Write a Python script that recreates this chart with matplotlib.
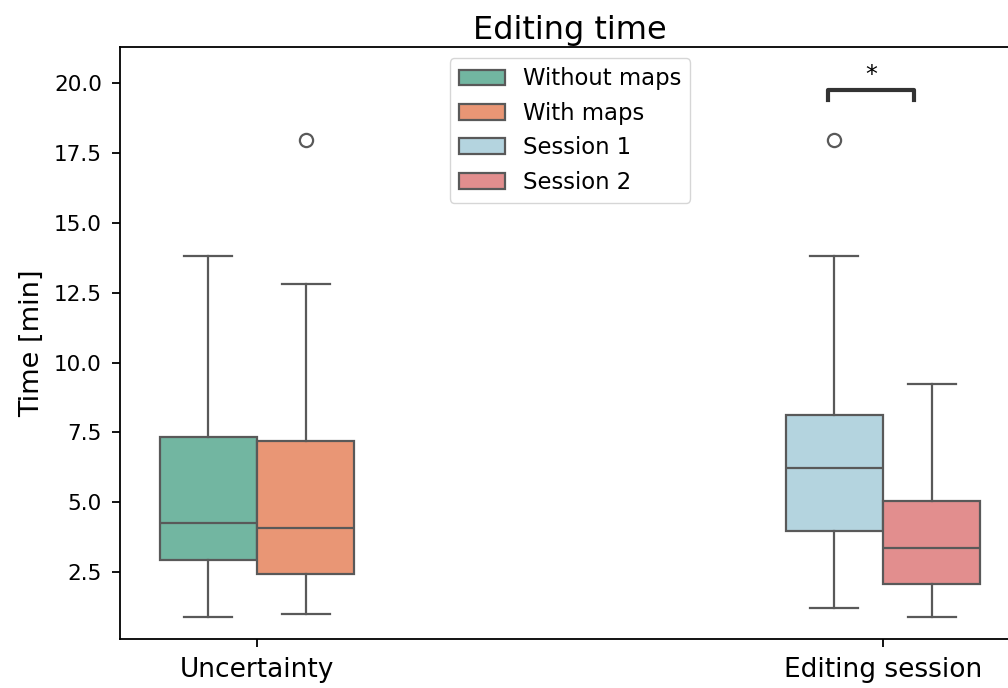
import matplotlib
matplotlib.use("Agg")
import matplotlib.pyplot as plt
from matplotlib.patches import Patch
import seaborn as sns

# box statistics
groups = ["Uncertainty", "Editing session"]
labels = ["Without maps", "With maps", "Session 1", "Session 2"]
group_of = [0, 0, 1, 1]
offsets = [-0.078, 0.078, -0.078, 0.078]
whislo = [0.90, 1.01, 1.20, 0.90]
q1 = [2.93, 2.42, 3.97, 2.07]
med = [4.26, 4.07, 6.22, 3.37]
q3 = [7.32, 7.19, 8.13, 5.05]
whishi = [13.81, 12.80, 13.81, 9.22]
fliers = [[], [17.98], [17.98], []]
base_colors = ["#66c2a5", "#fc8d62", "lightblue", "lightcoral"]

colors = [sns.desaturate(c, 0.75) for c in base_colors]
gray = "#595959"

fig = plt.figure(figsize=(10.08, 6.88), dpi=100)
ax = fig.add_axes([0.119, 0.0712, 0.893, 0.8605])

stats = []
for i in range(4):
    stats.append(dict(whislo=whislo[i], q1=q1[i], med=med[i], q3=q3[i],
                      whishi=whishi[i], fliers=fliers[i], label=labels[i]))
positions = [group_of[i] + offsets[i] for i in range(4)]

bp = ax.bxp(stats, positions=positions, widths=0.155, patch_artist=True,
            showfliers=True, manage_ticks=False,
            boxprops=dict(edgecolor=gray, linewidth=1.6),
            medianprops=dict(color=gray, linewidth=1.6),
            whiskerprops=dict(color=gray, linewidth=1.6),
            capprops=dict(color=gray, linewidth=1.6),
            flierprops=dict(marker="o", markerfacecolor="none",
                            markeredgecolor=gray, markersize=9.5,
                            markeredgewidth=1.6))
for patch, c in zip(bp["boxes"], colors):
    patch.set_facecolor(c)

ax.set_xlim(-0.219, 1.219)
ax.set_ylim(0.1, 21.3)
ax.set_xticks([0, 1])
ax.set_xticklabels(groups, fontsize=19)
ax.set_yticks([2.5, 5.0, 7.5, 10.0, 12.5, 15.0, 17.5, 20.0])
ax.tick_params(axis="y", labelsize=15.5, pad=7)
ax.tick_params(axis="x", pad=7)
ax.tick_params(length=6, width=1.3)
for s in ax.spines.values():
    s.set_linewidth(1.3)
ax.set_ylabel("Time [min]", fontsize=19.5, labelpad=6)
ax.set_title("Editing time", fontsize=23)

# significance bracket
x1, x2 = 1 - 0.088, 1 + 0.05
y, h = 19.39, 0.36
ax.plot([x1, x1, x2, x2], [y, y + h, y + h, y], color="#333333", linewidth=3)
ax.text((x1 + x2) / 2, y + h + 0.1, "*", ha="center", va="bottom", fontsize=17)

handles = [Patch(facecolor=c, edgecolor=gray, linewidth=1.6, label=l)
           for c, l in zip(colors, labels)]
ax.legend(handles=handles, loc="upper center", fontsize=16.4,
          borderaxespad=0.5)

fig.savefig("out.png", dpi=100)
